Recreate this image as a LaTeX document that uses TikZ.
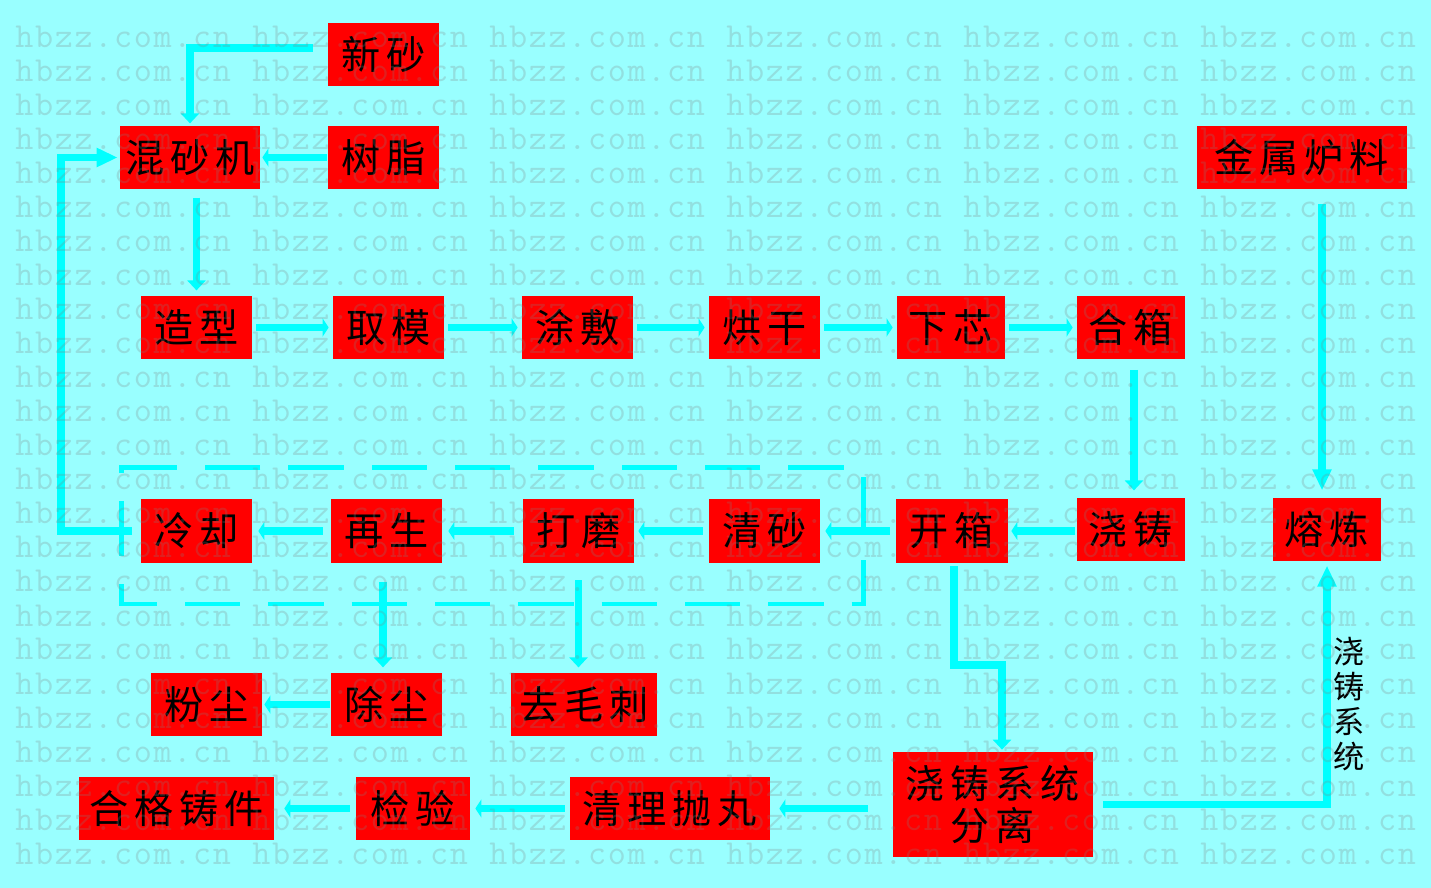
\documentclass[tikz,border=0pt]{standalone}
\usepackage{fontspec}
\newfontfamily\cjk[LetterSpace=15]{Noto Sans CJK SC}
\newfontfamily\cjklabel{Noto Sans CJK SC}
\newfontfamily\wmfont[LetterSpace=4.7]{Latin Modern Mono}
\usetikzlibrary{positioning}
\usetikzlibrary{arrows.meta}
\definecolor{bgcyan}{RGB}{153,255,255}
\definecolor{linecyan}{RGB}{0,255,255}
\tikzset{
    mynode/.style = {rectangle, fill=red, text=black, inner sep=0pt, align=center, minimum height=1.27cm, minimum width=2.22cm,
        font=\cjk\fontsize{22.3}{23.5}\selectfont},
    mylabel/.style = {inner sep=0pt, align=center, text=black, font=\cjklabel\fontsize{17.8}{20}\selectfont},
    wmark/.style = {anchor=base west, inner sep=0pt, text=black!50, text opacity=0.25,
        font=\wmfont\fontsize{20}{21}\selectfont},
    edgen/.style = {-{Triangle[length=0.12cm,width=0.36cm]},line width=0.15cm,linecyan,shorten <=0.08cm,shorten >=0.08cm},
    edgem/.style = {-{Triangle[length=0.2cm,width=0.36cm]},line width=0.15cm,linecyan,shorten <=0.08cm,shorten >=0.08cm},
    edgeb/.style = {-{Triangle[length=0.42cm,width=0.36cm]},line width=0.15cm,linecyan,shorten <=0.08cm,shorten >=0.08cm},
    edgeg/.style = {line width=0.1cm,linecyan,dash pattern=on 1.11cm off 0.557cm}, % plant boundary
}
\begin{document}
\begin{tikzpicture}[x=0.02cm,y=-0.02cm]
\fill[bgcyan] (0,0) rectangle (1431,888);
% boxes
\node[mynode] at (383.5,54.5) (sand) {新砂};
\node[mynode, minimum width=2.8cm] at (190,157.5) (mixer) {混砂机};
\node[mynode] at (383.5,157.5) (resin) {树脂};
\node[mynode, minimum width=4.2cm] at (1302,157.5) (charge) {金属炉料};
\node[mynode] at (196.5,327.5) (mould) {造型};
\node[mynode] at (388.5,327.5) (draft) {取模};
\node[mynode] at (577.5,327.5) (coat) {涂敷};
\node[mynode] at (764.5,327.5) (dry) {烘干};
\node[mynode, minimum width=2.16cm] at (951,327.5) (core) {下芯};
\node[mynode, minimum width=2.16cm] at (1131,327.5) (close) {合箱};
\node[mynode] at (196.5,531) (cool) {冷却};
\node[mynode] at (386.5,531) (regen) {再生};
\node[mynode] at (578.5,531) (grind) {打磨};
\node[mynode] at (764.5,531) (clean) {清砂};
\node[mynode, minimum width=2.24cm] at (952,531) (shake) {开箱};
\node[mynode, minimum width=2.16cm] at (1131,529.5) (pour) {浇铸};
\node[mynode, minimum width=2.16cm] at (1327,529.5) (melt) {熔炼};
\node[mynode] at (206.5,704.5) (dust) {粉尘};
\node[mynode] at (386.5,704.5) (filter) {除尘};
\node[mynode, minimum width=2.92cm] at (584,704.5) (deburr) {去毛刺};
\node[mynode, minimum width=3.9cm] at (176.5,808.5) (casting) {合格铸件};
\node[mynode, minimum width=2.28cm] at (413,808.5) (check) {检验};
\node[mynode, minimum width=4cm] at (670,808.5) (blast) {清理抛丸};
\node[mynode, minimum width=4cm, minimum height=2.1cm] at (993,804.5) (split) {浇铸系统\\分离};
\node[mylabel] at (1349,704) (sprue) {浇\\铸\\系\\统};
% free bends
\coordinate (sandin) at (190,48);
\coordinate (backline) at (61,157.5);
\coordinate (closeout) at (1134,370);
\coordinate (chargeout) at (1322,204);
\coordinate (benda) at (954,665);
\coordinate (bendb) at (1002,665);
\coordinate (regenout) at (383,582);
\coordinate (boxa) at (172,468);
\coordinate (boxb) at (121.5,468);
\coordinate (boxc) at (121.5,604);
\coordinate (boxd) at (863,604);
\coordinate (boxe) at (863,468);
% sand line
\draw[edgem,shorten <=0.3cm,shorten >=0.04cm] (sand.west |- sandin) -- (sandin) -- (mixer.north);
\draw[edgen,shorten <=0.02cm,shorten >=0.04cm] (resin) -- (mixer);
\draw[edgem,shorten <=0.16cm,shorten >=0.1cm] (mould |- mixer.south) -- (mould.north);
\draw[edgeb,shorten <=0.18cm,shorten >=0.04cm] (cool.west) -- (backline |- cool.west) -- (backline) -- (mixer.west);
% mould row
\draw[edgen] (mould) -- (draft);
\draw[edgen] (draft) -- (coat);
\draw[edgen] (coat) -- (dry);
\draw[edgen] (dry) -- (core);
\draw[edgen] (core) -- (close);
\draw[edgem,shorten >=0.14cm,shorten <=0cm] (closeout) -- (closeout |- pour.north);
\draw[edgeb,shorten >=0.14cm,shorten <=0cm] (chargeout) -- (chargeout |- melt.north);
% cleaning row
\draw[edgen,shorten <=0.04cm,shorten >=0.06cm] (pour.west |- shake) -- (shake.east);
\draw[edgen,shorten <=0.12cm,shorten >=0.1cm] (shake) -- (clean);
\draw[edgen,shorten <=0.12cm,shorten >=0.08cm] (clean) -- (grind);
\draw[edgen,shorten <=0.18cm,shorten >=0.12cm] (grind) -- (regen);
\draw[edgen,shorten <=0.16cm,shorten >=0.12cm] (regen) -- (cool);
\draw[edgem,shorten <=0cm,shorten >=0.1cm] (regenout) -- (regenout |- filter.north);
\draw[edgem,shorten <=0.34cm,shorten >=0.1cm] (grind.south) -- (grind.south |- deburr.north);
\draw[edgen,shorten <=0.02cm,shorten >=0.04cm] (filter) -- (dust);
% casting row
\draw[edgem,shorten <=0.06cm,shorten >=0.04cm] (benda |- shake.south) -- (benda) -- (bendb) -- (bendb |- split.north);
\draw[edgeb,shorten <=0.2cm,shorten >=0.08cm] (split.east) -| (melt.south);
\draw[edgen,shorten <=0.5cm,shorten >=0.18cm] (split.west |- blast) -- (blast.east);
\draw[edgen,shorten <=0.1cm,shorten >=0.1cm] (blast) -- (check);
\draw[edgen,shorten <=0.12cm,shorten >=0.2cm] (check) -- (casting);
% boundary
\draw[edgeg] (boxa) -- (boxb) -- (boxc) -- (boxd) -- (boxe) -- cycle;
% watermark
\foreach \row in {0,...,24}
  \foreach \col in {0,...,5} {
    \pgfmathsetmacro{\wx}{15+237*\col}
    \pgfmathsetmacro{\wy}{48+34*\row}
    \node[wmark] at (\wx,\wy) (w\row\col) {hbzz.com.cn};
  }
\end{tikzpicture}
\end{document}
